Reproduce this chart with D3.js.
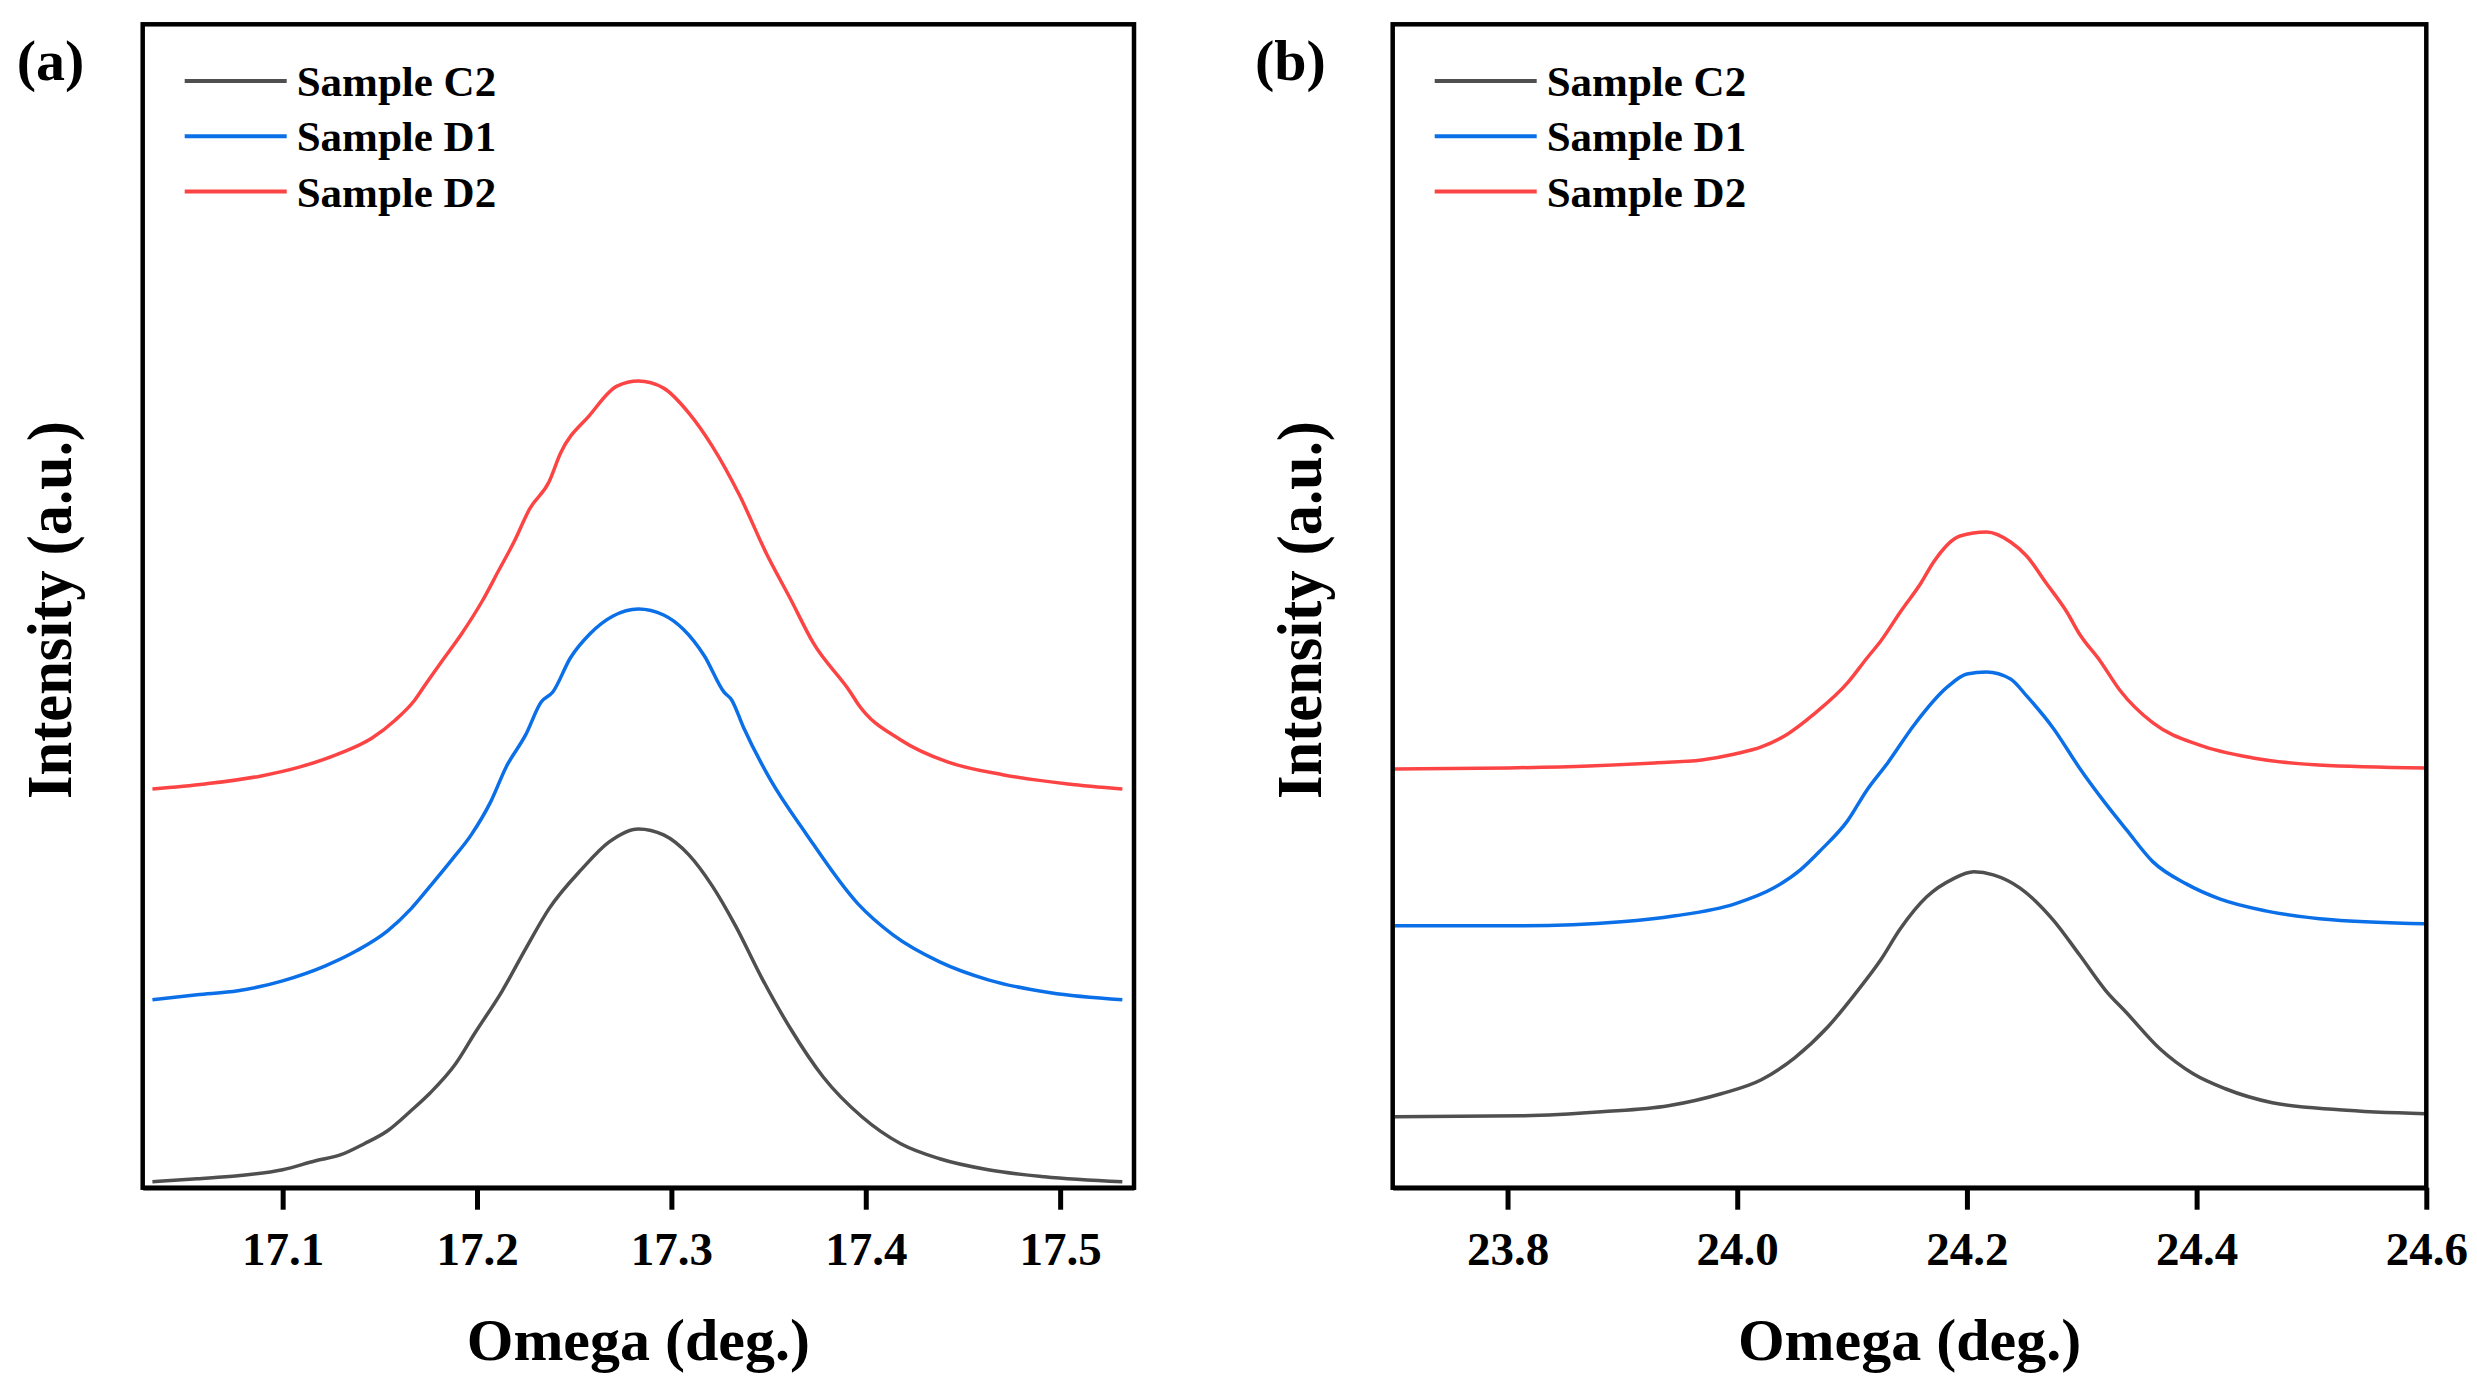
<!DOCTYPE html>
<html>
<head>
<meta charset="utf-8">
<script src="https://d3js.org/d3.v7.min.js"></script>
<style>
  body { margin: 0; background: #fff; overflow: hidden; }
  svg { display: block; }
  text { font-family: "Liberation Serif", "Times New Roman", serif; font-weight: bold; }
</style>
</head>
<body>
<div id="chart"></div>
<script>
// series names + colours
var names = ["Sample C2", "Sample D1", "Sample D2"];
var colors = ["#4f4f4f", "#0b6fe8", "#fd4444"];

// panel (a) -- omega (deg.) and intensity (a.u., offset as plotted)
var omegaA_C2 = [17.033,17.056,17.077,17.100,17.117,17.130,17.142,17.154,17.166,17.176,17.189,17.199,17.213,17.225,17.237,17.254,17.268,17.283,17.296,17.309,17.321,17.333,17.347,17.361,17.378,17.398,17.418,17.438,17.463,17.492,17.532];
var intA_C2   = [6,9,12,18,27,33,44,57,77,95,124,155,197,239,279,319,346,359,353,333,302,262,208,160,111,71,44,29,18,11,6];
var omegaA_D1 = [17.033,17.056,17.077,17.100,17.122,17.138,17.154,17.166,17.176,17.187,17.197,17.207,17.215,17.225,17.233,17.239,17.248,17.258,17.270,17.283,17.296,17.306,17.317,17.327,17.331,17.337,17.351,17.369,17.396,17.414,17.438,17.463,17.495,17.532];
var intA_D1   = [188,193,197,207,222,237,257,279,302,328,353,386,421,453,486,496,530,554,572,579,573,559,532,496,488,461,408,355,284,253,226,208,195,188];
var omegaA_D2 = [17.033,17.060,17.089,17.109,17.130,17.146,17.158,17.168,17.174,17.182,17.192,17.203,17.211,17.219,17.227,17.237,17.243,17.258,17.272,17.283,17.296,17.309,17.321,17.335,17.349,17.361,17.373,17.392,17.396,17.418,17.442,17.471,17.504,17.532];
var intA_D2   = [399,404,412,421,435,450,468,488,505,527,554,588,617,646,679,706,735,773,802,807,800,775,742,693,634,590,545,496,484,448,426,413,404,399];

// panel (b)
var omegaB_C2 = [23.702,23.813,23.882,23.940,23.986,24.021,24.050,24.079,24.102,24.125,24.142,24.165,24.188,24.206,24.223,24.246,24.275,24.298,24.321,24.339,24.368,24.397,24.425,24.466,24.524,24.599];
var intB_C2   = [71,72,76,82,94,108,130,161,193,228,259,291,309,316,313,300,268,233,197,175,139,114,99,85,78,74];
var omegaB_D1 = [23.702,23.813,23.899,23.946,23.998,24.032,24.055,24.073,24.096,24.113,24.131,24.154,24.183,24.200,24.217,24.238,24.252,24.275,24.298,24.321,24.339,24.362,24.391,24.420,24.460,24.518,24.599];
var intB_D1   = [262,262,266,272,284,300,318,338,367,398,425,463,501,514,516,509,492,460,420,384,358,326,304,289,277,268,264];
var omegaB_D2 = [23.702,23.801,23.871,23.928,23.969,23.998,24.021,24.044,24.067,24.096,24.113,24.125,24.142,24.160,24.171,24.194,24.217,24.238,24.252,24.269,24.287,24.298,24.316,24.333,24.362,24.402,24.449,24.506,24.599];
var intB_D2   = [419,420,422,425,428,434,441,454,474,505,530,547,576,605,626,652,656,646,632,605,576,554,527,498,465,443,430,423,420];

var ticksA = [17.1, 17.2, 17.3, 17.4, 17.5];
var ticksB = [23.8, 24.0, 24.2, 24.4, 24.6];

var width = 2477,
    height = 1396,
    plotTop = 24.3,
    plotBottom = 1187.7;

var panels = [
  { tag: "(a)", tagX: 16.7, left: 142.7, right: 1134, domain: [17.028, 17.538], ticks: ticksA,
    series: [[omegaA_C2, intA_C2], [omegaA_D1, intA_D1], [omegaA_D2, intA_D2]] },
  { tag: "(b)", tagX: 1255, left: 1392.7, right: 2426.3, domain: [23.7, 24.6], ticks: ticksB,
    series: [[omegaB_C2, intB_C2], [omegaB_D1, intB_D1], [omegaB_D2, intB_D2]] }
];

var svg = d3.select("#chart")
            .append("svg")
            .attr("width", width)
            .attr("height", height);

var y = d3.scaleLinear()
          .domain([0, 1164])
          .range([plotBottom, plotTop]);

panels.forEach(function(p) {
  var x = d3.scaleLinear()
            .domain(p.domain)
            .range([p.left, p.right]);

  var line = d3.line()
               .x(function(d) { return x(d[0]); })
               .y(function(d) { return y(d[1]); })
               .curve(d3.curveMonotoneX);

  p.series.forEach(function(s, i) {
    var pts = d3.zip(s[0], s[1]);
    svg.append("path")
       .datum(pts)
       .attr("d", line)
       .attr("fill", "none")
       .attr("stroke", colors[i])
       .attr("stroke-width", 3.5)
       .attr("stroke-linejoin", "round");
  });

  // frame
  svg.append("rect")
     .attr("x", p.left)
     .attr("y", plotTop)
     .attr("width", p.right - p.left)
     .attr("height", plotBottom - plotTop)
     .attr("fill", "none")
     .attr("stroke", "#000")
     .attr("stroke-width", 4.5);

  // bottom axis: outward ticks + labels
  var axis = svg.append("g")
                .attr("class", "xaxis")
                .attr("transform", "translate(0," + plotBottom + ")")
                .call(d3.axisBottom(x)
                        .tickValues(p.ticks)
                        .tickSizeInner(22)
                        .tickSizeOuter(0)
                        .tickPadding(22)
                        .tickFormat(d3.format(".1f")));
  axis.select(".domain").attr("stroke-width", 4.5);
  axis.selectAll(".tick line")
      .attr("stroke", "#000")
      .attr("stroke-width", 5);
  axis.selectAll(".tick text")
      .style("font-size", "47px")
      .style("font-family", "'Liberation Serif', serif")
      .style("font-weight", "bold")
      .attr("fill", "#000");

  // axis titles
  svg.append("text")
     .attr("x", (p.left + p.right) / 2)
     .attr("y", 1360)
     .attr("text-anchor", "middle")
     .style("font-size", "60px")
     .text("Omega (deg.)");

  svg.append("text")
     .attr("transform", "translate(" + (p.left - 72) + ",610) rotate(-90)")
     .attr("text-anchor", "middle")
     .attr("textLength", 378)
     .attr("lengthAdjust", "spacingAndGlyphs")
     .style("font-size", "64px")
     .text("Intensity (a.u.)");

  svg.append("text")
     .attr("x", p.tagX)
     .attr("y", 80)
     .style("font-size", "58px")
     .text(p.tag);

  // legend
  names.forEach(function(n, i) {
    var ly = 81 + i * 55.3;
    svg.append("line")
       .attr("x1", p.left + 42)
       .attr("x2", p.left + 144)
       .attr("y1", ly)
       .attr("y2", ly)
       .attr("stroke", colors[i])
       .attr("stroke-width", 4);
    svg.append("text")
       .attr("x", p.left + 154)
       .attr("y", ly + 15)
       .style("font-size", "43px")
       .text(n);
  });
});
</script>
</body>
</html>
